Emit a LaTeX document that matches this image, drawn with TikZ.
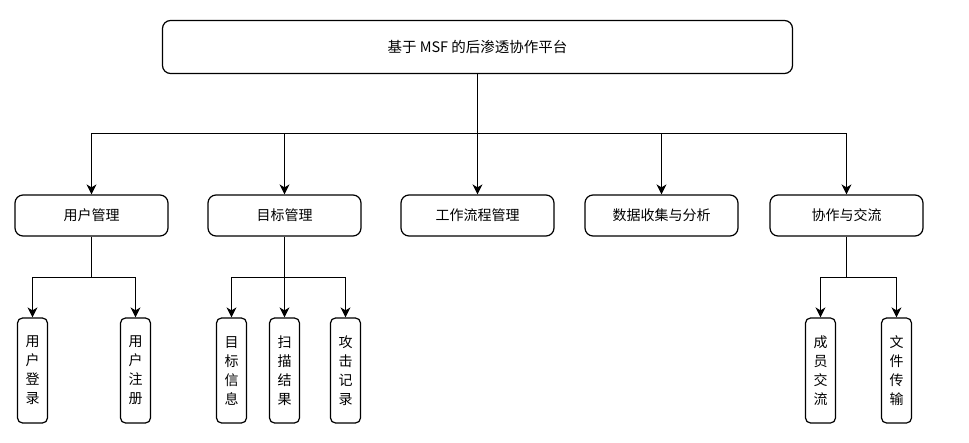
\documentclass[tikz,border=0pt]{standalone}
\usepackage{fontspec}
\setmainfont{Noto Sans CJK SC}
\usetikzlibrary{arrows.meta}
\begin{document}
\begin{tikzpicture}[x=1pt,y=-1pt,
  box/.style={draw=black,line width=1.2pt,fill=white,rounded corners=8pt,inner sep=0pt,font=\fontsize{14}{16}\selectfont},
  topbox/.style={box,minimum width=630pt,minimum height=53pt,font=\fontsize{14.5}{16}\selectfont},
  midbox/.style={box,minimum width=153pt,minimum height=41pt},
  leafbox/.style={box,rounded corners=5pt,minimum width=30pt,minimum height=105pt,align=center,font=\fontsize{14}{19}\selectfont},
  arr/.style={line width=1.3pt,-{Stealth[length=10pt,width=10pt,inset=3pt]}}]
\useasboundingbox (0,0) rectangle (969,443);
\node[topbox] (top) at (477.5,47) {基于 MSF 的后渗透协作平台};
\node[midbox] (m1) at (91.5,215.5) {用户管理};
\node[midbox] (m2) at (284.5,215.5) {目标管理};
\node[midbox] (m3) at (477.5,215.5) {工作流程管理};
\node[midbox] (m4) at (661.5,215.5) {数据收集与分析};
\node[midbox] (m5) at (846.5,215.5) {协作与交流};
\node[leafbox] (l1) at (32.5,370.5) {用\\户\\登\\录};
\node[leafbox] (l2) at (135.5,370.5) {用\\户\\注\\册};
\node[leafbox] (l3) at (231.5,370.5) {目\\标\\信\\息};
\node[leafbox] (l4) at (284.5,370.5) {扫\\描\\结\\果};
\node[leafbox] (l5) at (345.5,370.5) {攻\\击\\记\\录};
\node[leafbox] (l6) at (820.5,370.5) {成\\员\\交\\流};
\node[leafbox] (l7) at (896.5,370.5) {文\\件\\传\\输};
\coordinate (bus) at (477.5,133.5);
\draw[arr] (top.south) -- (bus) -| (m1.north);
\draw[arr] (bus) -| (m5.north);
\draw[arr] (bus) -- (m3.north);
\draw[arr] (m2.north |- bus) -- (m2.north);
\draw[arr] (m4.north |- bus) -- (m4.north);
\coordinate (bus1) at (91.5,277.5);
\draw[arr] (m1.south) -- (bus1) -| (l1.north);
\draw[arr] (bus1) -| (l2.north);
\coordinate (bus2) at (284.5,277.5);
\draw[arr] (m2.south) -- (bus2) -| (l3.north);
\draw[arr] (bus2) -| (l5.north);
\draw[arr] (bus2) -- (l4.north);
\coordinate (bus5) at (846.5,277.5);
\draw[arr] (m5.south) -- (bus5) -| (l6.north);
\draw[arr] (bus5) -| (l7.north);
\end{tikzpicture}
\end{document}
